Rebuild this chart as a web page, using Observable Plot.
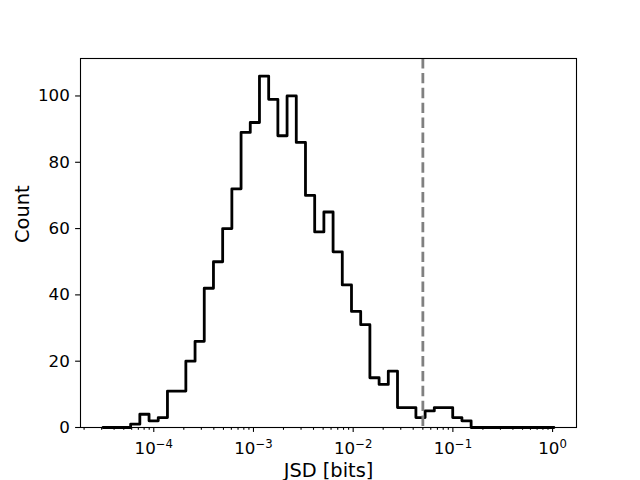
<!DOCTYPE html>
<html><head><meta charset="utf-8">
<script src="https://cdn.jsdelivr.net/npm/d3@7"></script>
<script src="https://cdn.jsdelivr.net/npm/@observablehq/plot@0.6"></script>
<style>body{margin:0;background:#fff}</style>
</head><body><div id="chart"></div>
<script>
// Histogram counts per log-spaced bin
const counts = [0, 0, 0, 1, 4, 2, 3, 11, 11, 20, 26, 42, 50, 60, 72, 89, 92, 106, 99, 88, 100, 86, 70, 59, 65, 53, 43, 35, 31, 15, 13, 17, 6, 6, 3, 5, 6, 6, 3, 2, 0, 0, 0, 0, 0, 0, 0, 0, 0];
// Binning parameters (log10 of first edge, bin width in decades)
const binLogMin = -4.509;
const binLogWidth = 0.0923;
const majorTicks = [1e-4, 1e-3, 1e-2, 1e-1, 1e0];
const yTicks = [0, 20, 40, 60, 80, 100];
const thresholdValue = 0.05;
const xLabel = "JSD [bits]";
const yLabel = "Count";
const xDomain = [10 ** -4.735, 10 ** 0.24];
const yDomain = [0, 111.3];

const edges = d3.range(counts.length + 1).map(i => 10 ** (binLogMin + i * binLogWidth));
const n = counts.length;
const stepPts = [{x: edges[0], y: 0}]
  .concat(counts.map((c, i) => ({x: edges[i], y: c})))
  .concat([{x: edges[n], y: counts[n - 1]}, {x: edges[n], y: 0}]);

const minorTicks = [];
for (let e = -5; e <= 0; e++) for (let m = 2; m <= 9; m++) {
  const v = m * 10 ** e;
  if (v >= xDomain[0] && v <= xDomain[1]) minorTicks.push(v);
}
const sup = {"-": "⁻", "0": "⁰", "1": "¹", "2": "²", "3": "³", "4": "⁴", "5": "⁵", "6": "⁶", "7": "⁷", "8": "⁸", "9": "⁹"};
const unsup = Object.fromEntries(Object.entries(sup).map(([k, v]) => [v, k === "-" ? "\u2212" : k]));
const fmt = v => "10" + String(Math.round(Math.log10(v))).split("").map(ch => sup[ch]).join("");

const chart = Plot.plot({
  width: 640, height: 480,
  marginLeft: 80, marginRight: 64, marginTop: 58, marginBottom: 53,
  style: {fontFamily: "DejaVu Sans", background: "white", color: "black"},
  x: {type: "log", domain: xDomain},
  y: {domain: yDomain},
  marks: [
    Plot.line(stepPts, {x: "x", y: "y", curve: "step-after", stroke: "black", strokeWidth: 2.8}),
    Plot.ruleX([thresholdValue], {stroke: "#808080", strokeWidth: 2.8, strokeDasharray: "10.4,4.5"}),
    Plot.frame({stroke: "black", strokeWidth: 1.1}),
    Plot.axisX(minorTicks, {tickSize: 2.8, tickFormat: () => "", label: null, strokeWidth: 1.1}),
    Plot.axisX(majorTicks, {tickSize: 4.9, tickPadding: 9.5, tickFormat: fmt, fontSize: 16.7, label: null, strokeWidth: 1.1}),
    Plot.axisY(yTicks, {tickSize: 4.9, tickPadding: 5.8, fontSize: 16.7, label: null, strokeWidth: 1.1}),
    Plot.text([xLabel], {frameAnchor: "bottom", dy: 49, lineAnchor: "bottom", fontSize: 19.4, text: d => d}),
    Plot.text([yLabel], {frameAnchor: "left", rotate: -90, dx: -58, fontSize: 19.4, text: d => d})
  ]
});

// Render the exponent as a raised, smaller tspan (like mathtext)
d3.select(chart).selectAll("text").each(function () {
  const t = this.textContent;
  const m = /^10([⁻⁰¹²³⁴⁵⁶⁷⁸⁹]+)$/.exec(t);
  if (!m) return;
  const exp = m[1].split("").map(ch => unsup[ch]).join("");
  const sel = d3.select(this);
  sel.text("10");
  sel.append("tspan").attr("font-size", "11.7px").attr("dy", "-5.5").text(exp);
});
document.getElementById("chart").appendChild(chart);
</script>
</body></html>
